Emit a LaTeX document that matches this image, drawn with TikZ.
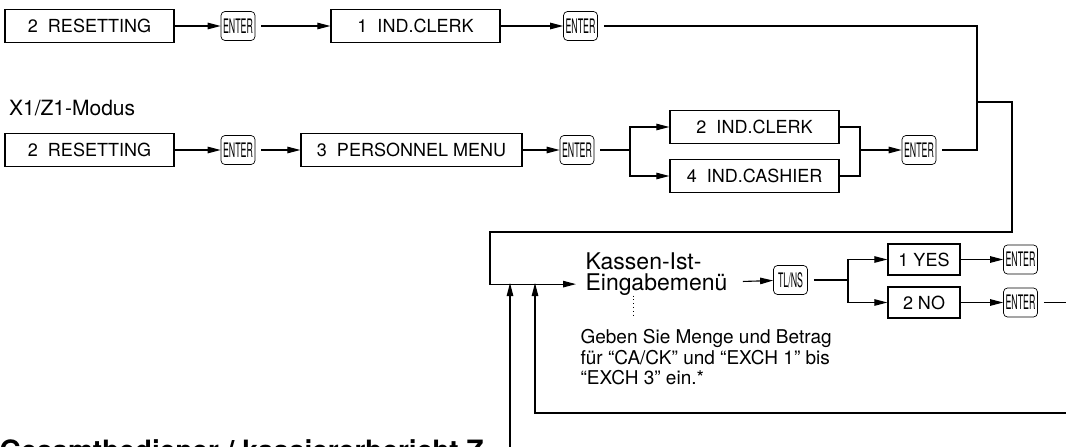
\documentclass[tikz,border=0pt]{standalone}
\usepackage{fontspec}
\setmainfont{TeX Gyre Heros}
\usepackage{graphicx}
\usetikzlibrary{arrows.meta}
\newcommand{\keytxt}[1]{\scalebox{0.44}[1]{#1}}

\begin{document}
\begin{tikzpicture}[x=1pt, y=-1pt, line width=1.1pt,
  every node/.style={font=\fontsize{18}{20}\selectfont},
  box/.style={draw, line width=1.3pt, minimum height=33pt, inner sep=0pt},
  key/.style={draw, line width=0.7pt, rounded corners=4pt, minimum width=34pt, minimum height=29pt, inner sep=0pt, font=\fontsize{20}{20}\selectfont},
  arr/.style={-{Triangle[length=13pt, width=6.5pt]}},
  keyout/.style={shorten <=6pt},
  dots/.style={line width=0.8pt, dash pattern=on 0.8pt off 3pt}]
	\clip (0,0) rectangle (1066,447);
	% upper row
	\node[box, minimum width=169pt] (rs1) at (89.5,26) {2\ \ RESETTING};
	\node[key] (en1) at (238,26) {\keytxt{ENTER}};
	\node[box, minimum width=169pt] (ic1) at (415.5,26) {1\ \ IND.CLERK};
	\node[key] (en2) at (580.5,26) {\keytxt{ENTER}};
	% X1/Z1 row
	\node[anchor=base east, font=\fontsize{21}{21}\selectfont] (mode) at (139,115) {X1/Z1-Modus};
	\node[box, minimum width=169pt] (rs2) at (89.5,150) {2\ \ RESETTING};
	\node[key] (en3) at (238,150) {\keytxt{ENTER}};
	\node[box, minimum width=221pt] (pm) at (411.5,150) {3\ \ PERSONNEL MENU};
	\node[key] (en4) at (577,150) {\keytxt{ENTER}};
	\node[box, minimum width=169pt] (ic2) at (754.5,127) {2\ \ IND.CLERK};
	\node[box, minimum width=169pt] (cs2) at (754.5,176) {4\ \ IND.CASHIER};
	\node[key] (en5) at (919,150) {\keytxt{ENTER}};
	\coordinate (b1) at (630,150);
	\coordinate (m1) at (860,150);
	\coordinate (jn) at (977,102);
	% Kassen-Ist
	\node[anchor=base west, inner xsep=9pt, inner ysep=0pt, font=\fontsize{23}{23}\selectfont] (kas2) at (576,290) {Eingabemenü};
	\node[anchor=base west, inner xsep=9pt, inner ysep=0pt, font=\fontsize{23}{23}\selectfont] (kas1) at (576,269) {Kassen-Ist-};
	\node[key] (tl) at (790.5,280) {\keytxt{TL/NS}};
	\coordinate (b2) at (848,280);
	\node[box, minimum width=72pt, minimum height=31pt] (yes) at (924,259.5) {1 YES};
	\node[box, minimum width=72pt, minimum height=31pt] (no) at (924,302.5) {2 NO};
	\node[key] (en6) at (1020.5,259.5) {\keytxt{ENTER}};
	\node[key] (en7) at (1020.5,302.5) {\keytxt{ENTER}};
	\coordinate (nx) at (1070,302.5);
	\coordinate (dt) at (633,317);
	\node[anchor=north west, align=left, inner sep=0pt, font=\fontsize{19}{20.5}\selectfont] (note) at (580,329) {Geben Sie Menge und Betrag\\für “CA/CK” und “EXCH 1” bis\\“EXCH 3” ein.*};
	% return lines
	\coordinate (r1) at (510,460); \coordinate (r1t) at (510,283);
	\coordinate (r2) at (1070,413); \coordinate (r2t) at (535,283);
	\node[anchor=north west, inner sep=0pt, font=\fontsize{28}{28}\selectfont\bfseries] (head) at (-1,439) {Gesamtbediener / kassiererbericht Z};
	% connectors
	\foreach \a/\b in {rs1/en1, ic1/en2, rs2/en3, pm/en4, m1/en5, yes/en6, no/en7} {\draw[arr] (\a) -- (\b);}
	\foreach \a/\b in {en1/ic1, en3/pm, kas2/tl} {\draw[arr, keyout] (\a) -- (\b);}
	\draw[keyout] (en4) -- (b1);
	\draw[arr] (b1) |- (ic2);
	\draw[arr] (b1) |- (cs2);
	\draw (ic2) -| (m1);
	\draw (cs2) -| (m1);
	\draw[keyout] (en2) -| (jn);
	\draw[keyout] (en5) -| (jn);
	\draw[arr] (jn) -- (1012,102) -- (1012,232) -- (490,232) |- (kas2);
	\draw[keyout] (tl) -- (b2);
	\draw[arr] (b2) |- (yes);
	\draw[arr] (b2) |- (no);
	\draw[keyout] (en7) -- (nx);
	\draw[dots] (dt |- kas2.south) -- (dt);
	\draw[arr] (r1) -- (r1t);
	\draw[arr] (r2) -| (r2t);
\end{tikzpicture}
\end{document}
